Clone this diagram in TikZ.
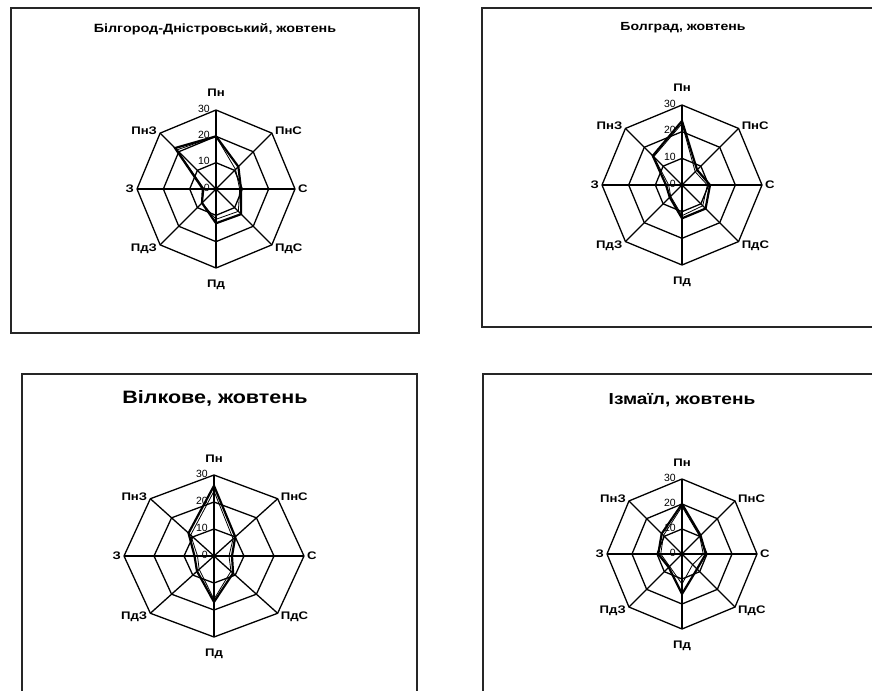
\documentclass[tikz,border=0pt]{standalone}
\usepackage{fontspec}
\setmainfont{Liberation Sans}
\newfontfamily\widefont[FakeStretch=1.2]{Liberation Sans}
\tikzset{
  frame/.style={line width=1.6bp, draw=black!85, line cap=rect},
  gridline/.style={line width=1.3bp, draw=black},
  seriesA/.style={line width=2.2bp, draw=black, line join=miter},
  seriesB/.style={line width=0.8bp, draw=black},
  dirlabel/.style={font=\widefont\fontsize{11}{12}\selectfont\bfseries, inner sep=0bp},
  ticklabel/.style={font=\fontsize{10.5}{11}\selectfont, inner sep=0bp, anchor=east, xshift=-6bp, yshift=1.5bp},
  chtitle/.style={inner sep=0bp}
}
\newcommand{\radargrid}[1]{%
  \foreach \r in {10,20,30}{\draw[gridline] (90:\r) -- (45:\r) -- (0:\r) -- (-45:\r) -- (-90:\r) -- (-135:\r) -- (180:\r) -- (135:\r) -- cycle;}
  \foreach \a in {0,45,...,315}{\draw[gridline] (0,0) -- (\a:30);}
  \node[dirlabel, anchor=base, yshift=13bp] (#1N) at (90:30) {Пн};
  \node[dirlabel, anchor=base west, xshift=3bp, yshift=-1.5bp] (#1NE) at (45:30) {ПнС};
  \node[dirlabel, anchor=base west, xshift=3bp, yshift=-3.5bp] (#1E) at (0:30) {С};
  \node[dirlabel, anchor=base west, xshift=3bp, yshift=-6.5bp] (#1SE) at (-45:30) {ПдС};
  \node[dirlabel, anchor=base, yshift=-19bp] (#1S) at (-90:30) {Пд};
  \node[dirlabel, anchor=base east, xshift=-3bp, yshift=-6.5bp] (#1SW) at (-135:30) {ПдЗ};
  \node[dirlabel, anchor=base east, xshift=-3bp, yshift=-3.5bp] (#1W) at (180:30) {З};
  \node[dirlabel, anchor=base east, xshift=-3bp, yshift=-1.5bp] (#1NW) at (135:30) {ПнЗ};
  \node[ticklabel] (#1t0) at (90:0) {0};
  \node[ticklabel] (#1t10) at (90:10) {10};
  \node[ticklabel] (#1t20) at (90:20) {20};
  \node[ticklabel] (#1t30) at (90:30) {30};
}
\newcommand{\radarseries}[9]{%
  \draw[#1] (90:#2) -- (45:#3) -- (0:#4) -- (-45:#5) -- (-90:#6) -- (-135:#7) -- (180:#8) -- (135:#9) -- cycle;
}
\begin{document}
\begin{tikzpicture}[x=1bp, y=-1bp]
  \clip (0,0) rectangle (872,691);
  \fill[white] (0,0) rectangle (872,691);
  % frames
  \draw[frame] (11,8) rectangle (419,333);
  \draw[frame] (880,8) -- (482,8) -- (482,327) -- (880,327);
  \draw[frame] (22,700) -- (22,374) -- (417,374) -- (417,700);
  \draw[frame] (483,700) -- (483,374) -- (880,374);
  % titles
  \node[chtitle, font=\widefont\fontsize{12}{14}\selectfont\bfseries] (t1) at (215,29) {Білгород-Дністровський, жовтень};
  \node[chtitle, font=\widefont\fontsize{11.8}{14}\selectfont\bfseries] (t2) at (683,28) {Болград, жовтень};
  \node[chtitle, font=\widefont\fontsize{18}{20}\selectfont\bfseries] (t3) at (215,398) {Вілкове, жовтень};
  \node[chtitle, font=\widefont\fontsize{16}{18}\selectfont\bfseries] (t4) at (682,400) {Ізмаїл, жовтень};
  % chart 1
  \begin{scope}[shift={(216,189)}, xscale=79/30, yscale=-79/30]
    \radargrid{a}
    \radarseries{seriesB}{20}{10.5}{9}{12}{11.5}{7.5}{4.5}{21}
    \radarseries{seriesA}{20}{12}{9.5}{13.5}{13}{7.5}{5}{22}
  \end{scope}
  % chart 2
  \begin{scope}[shift={(682,185)}, xscale=80/30, yscale=-80/30]
    \radargrid{b}
    \radarseries{seriesB}{23}{7}{9.5}{11}{11.5}{6}{5}{15}
    \radarseries{seriesA}{24}{8}{10.5}{12.5}{12.5}{6.5}{6}{15.5}
  \end{scope}
  % chart 3
  \begin{scope}[shift={(214,556)}, xscale=90/30, yscale=-81/30]
    \radargrid{c}
    \radarseries{seriesB}{24}{9}{5}{8}{16}{7}{5.5}{11}
    \radarseries{seriesA}{26}{10}{6}{9}{17}{8}{6.5}{12}
  \end{scope}
  % chart 4
  \begin{scope}[shift={(682,554)}, xscale=75/30, yscale=-75/30]
    \radargrid{d}
    \radarseries{seriesB}{19}{10}{8.5}{6}{12}{7}{8.5}{10.5}
    \radarseries{seriesA}{20}{10.5}{9.5}{8.5}{16}{7.5}{9.5}{11.5}
  \end{scope}
\end{tikzpicture}
\end{document}
